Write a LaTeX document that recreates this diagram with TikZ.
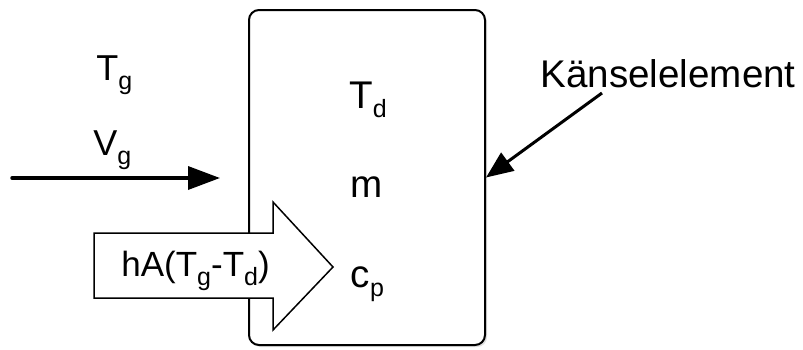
\documentclass[tikz,border=0pt]{standalone}
\usepackage{fontspec}
\setmainfont{Liberation Sans}
\usetikzlibrary{arrows.meta,positioning,shadows}
\newcommand{\sbs}[1]{\raisebox{-4.5pt}{\fontsize{12.5}{13}\selectfont #1}}

\begin{document}
\begin{tikzpicture}[
    x=0.5pt, y=-0.5pt,
    font=\fontsize{18}{21}\selectfont,
    txt/.style={inner sep=0pt, anchor=base west},
    big/.style={font=\fontsize{19.3}{22}\selectfont},
    chamber/.style={draw, rounded corners=5pt, fill=white, line width=1pt, minimum width=118pt, minimum height=167.5pt, drop shadow={shadow xshift=1pt, shadow yshift=-1pt, fill=black!25}},
    bigarrow/.style={draw, fill=white, line width=0.75pt, line join=miter},
    flow/.style={-{Triangle[length=16pt, width=11.5pt]}, line width=1.75pt, line cap=round},
    pointer/.style={-{Triangle[length=13.5pt, width=11pt]}, line width=1.5pt}
]
\useasboundingbox (0,0) rectangle (803,349);

\node[chamber] (box) at (367,177.5) {};

% heat flow into the element
\draw[bigarrow] (94,233) -- (273,233) -- (273,202) -- (333,267) -- (273,330)
  -- (273,298) -- (94,298) -- cycle;
\node[txt, font=\fontsize{17.5}{20}\selectfont] (heat) at (121,276) {hA(T\sbs{g}-T\sbs{d})};

% gas side
\node[txt] (tg) at (96,80) {T\sbs{g}};
\node[txt] (vg) at (93,155) {V\sbs{g}};
\coordinate (flowstart) at (12,178);
\coordinate (flowend) at (220,178);
\draw[flow] (flowstart) -- (flowend);

% element properties
\node[txt, big] (td) at (349,108) {T\sbs{d}};
\node[txt, big] (mass) at (350.5,197) {m};
\node[txt, big] (cp) at (350.5,287) {c\sbs{p}};

% label
\node[txt, big] (sensor) at (540,87) {Känselelement};
\coordinate (sensortail) at (602,93);
\draw[pointer] (sensortail) -- (box.east);
\end{tikzpicture}
\end{document}
